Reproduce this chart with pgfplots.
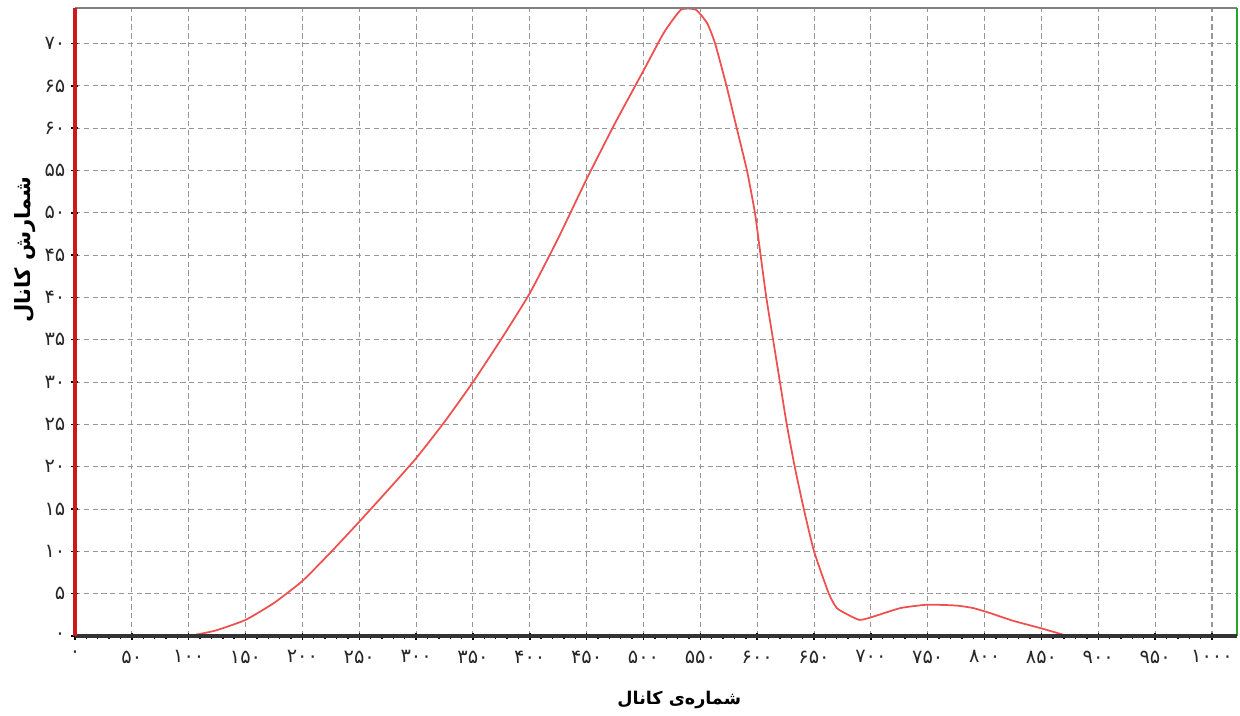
\documentclass[border=0pt]{standalone}
\usepackage{pgfplots}
\pgfplotsset{compat=1.18}
\usepackage{fontspec}
\usetikzlibrary{calc}
\TeXXeTstate=1
\newfontfamily\fa[Script=Arabic]{DejaVu Sans}
\definecolor{curvered}{RGB}{238,80,80}
\definecolor{gridgray}{RGB}{150,150,150}
\definecolor{leftred}{RGB}{205,25,25}
\definecolor{rightgreen}{RGB}{40,165,40}

% channel counts
\pgfplotstableread{
x y
100 0
112 0.3
125 0.7
150 1.9
175 3.9
200 6.5
225 9.9
250 13.5
275 17.2
300 21.0
325 25.3
350 30.0
375 35.1
400 40.5
425 47.0
450 54.0
475 60.6
500 66.8
518 71.3
533 74
546 74
556 72.4
563 70
573 65
582 60
591 55
598 50
603 45
608 40
614 35
620 30
626 25
633 20
641 15
650 10
663 5
670 3.3
680 2.5
690 1.9
700 2.2
726 3.3
750 3.7
775 3.6
790 3.3
805 2.7
825 1.8
850 0.9
873 0
}\spectrum

\begin{document}
\begin{tikzpicture}
\begin{axis}[
  scale only axis,
  width=23.24cm, height=12.56cm,
  xmin=0, xmax=1022, ymin=0, ymax=74.2,
  xtick={0,50,...,1000},
  xticklabels={۰,۵۰,۱۰۰,۱۵۰,۲۰۰,۲۵۰,۳۰۰,۳۵۰,۴۰۰,۴۵۰,۵۰۰,۵۵۰,۶۰۰,۶۵۰,۷۰۰,۷۵۰,۸۰۰,۸۵۰,۹۰۰,۹۵۰,۱۰۰۰},
  ytick={0,5,...,70},
  yticklabels={۰,۵,۱۰,۱۵,۲۰,۲۵,۳۰,۳۵,۴۰,۴۵,۵۰,۵۵,۶۰,۶۵,۷۰},
  ticklabel style={font=\fa\fontsize{11}{13}\selectfont, text=black!85},
  xticklabel style={yshift=-0.1cm},
  grid=major,
  major grid style={gridgray, dash pattern=on 3pt off 2pt, line width=0.6pt},
  axis line style={draw=none},
  tick align=center,
  xtick pos=bottom, ytick pos=left,
  minor x tick num=4,
  major tick length=0.14cm, minor tick length=0.1cm,
  tick style={black, line width=0.8pt},
  ylabel={\fa\fontsize{12}{14}\selectfont\bfseries\beginR شمارش کانال\endR},
  ylabel style={at={(axis description cs:-0.043,0.615)}, anchor=center},
  xlabel={\fa\fontsize{10}{12}\selectfont\bfseries\beginR شماره‌ی کانال\endR},
  xlabel style={at={(axis description cs:0.52,-0.102)}, anchor=center},
  clip=false,
]
\addplot[curvered, line width=1pt, smooth, tension=0.3] table[x=x, y=y] {\spectrum};
\draw[gray, line width=1.3pt] (rel axis cs:0,1) -- (rel axis cs:1,1);
\draw[rightgreen, line width=1.3pt] (rel axis cs:1,0) -- (rel axis cs:1,1);
\draw[black!80, line width=1.8pt] (rel axis cs:0,0) -- (rel axis cs:1,0);
\draw[leftred, line width=2.6pt] (rel axis cs:0,0) -- (rel axis cs:0,1);
\end{axis}
\pgfresetboundingbox
\path ($(current axis.south west)+(-1.5cm,-1.6cm)$) rectangle ($(current axis.north east)+(0.06cm,0.16cm)$);
\end{tikzpicture}
\end{document}
